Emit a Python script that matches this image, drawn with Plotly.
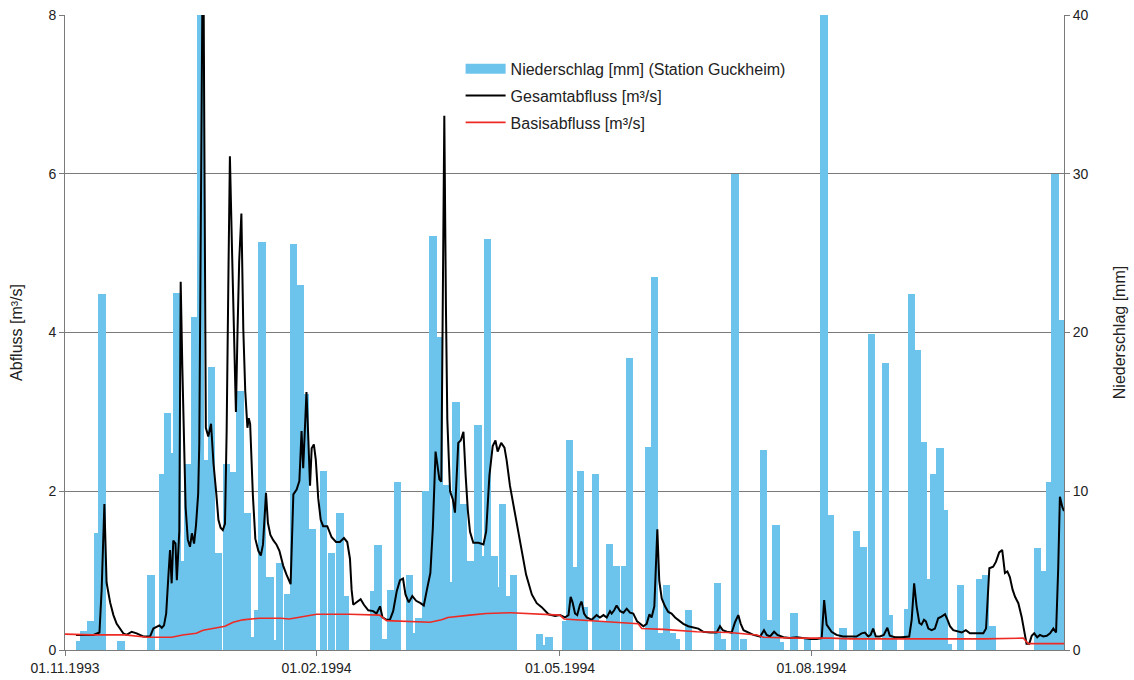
import pandas as pd
import plotly.graph_objects as go

START = pd.Timestamp("1993-11-01")

# Niederschlag (Station Guckheim): days since 01.11.1993, mm
rain_day = [5.5, 7, 9.5, 12, 13.5, 20.5, 31.5, 35.8, 37.5, 39, 41, 43, 45, 47.6, 49.5, 51.5, 53.5, 56, 59,
            61.5, 64, 66.5, 68.5, 70.5, 72, 75, 77, 78.5, 81.5, 83.5, 86, 88, 90.5, 94.5, 97.5, 100.5, 102.5,
            113, 114.5, 117, 119, 121.5, 126, 128, 129.5, 132, 134.5, 137, 139.5, 141, 143, 145.5, 148.5,
            151, 152.5, 154.5, 157, 158, 160, 162, 164, 173.5, 175, 177, 183, 184.5, 186, 188.5, 190, 194,
            196.5, 199, 201.5, 204.5, 206.5, 213.5, 215.5, 217.5, 220, 222, 223.5, 228, 238.5, 240.5, 245,
            248, 255.5, 257.5, 260, 261.5, 266.5, 271.5, 277.5, 280, 284.5, 289.5, 292, 295, 300, 301.5,
            303, 308, 309.5, 311.5, 314, 316, 317.5, 320, 321.5, 323, 327.5, 334.5, 336.5, 339, 355.5, 358,
            360, 362, 364]
rain_mm = [0.55, 1.2, 1.85, 7.4, 22.4, 0.55, 4.7, 11.1, 14.9, 12.4, 22.5, 5.6, 11.7, 21, 42, 12, 17.8, 6.1, 11.7,
           11.2, 16.3, 8.6, 0.8, 2.5, 25.7, 4.6, 0.6, 5.5, 3.5, 25.6, 23.0, 16.1, 7.6, 11.3, 6.1, 8.6, 3.4,
           3.7, 6.6, 0.7, 3.8, 10.6, 4.7, 1.1, 2.0, 10, 26.1, 19.7, 10.4, 4.3, 15.6, 9.2, 5.6,
           14.2, 5.9, 25.9, 5.9, 4.0, 9.2, 3.4, 4.7, 1.0, 0.3, 0.8, 1.8, 13.2, 5.2, 11.3, 2.7, 11.1,
           1.8, 6.7, 5.3, 5.3, 18.4, 12.8, 23.5, 1.1, 4.1, 1.1, 0.7, 2.5, 4.2, 0.7, 30,
           0.7, 12.6, 1.9, 7.9, 0.5, 2.3, 0.7, 42, 8.5, 1.4, 7.5, 6.5, 19.9, 18.1, 2.2,
           0.8, 2.6, 22.4, 18.9, 13.1, 4.5, 11.1, 12.7, 8.8, 0.4, 4.1, 4.5, 4.7, 1.5, 6.4, 5.0,
           10.6, 30, 20.8]

# Gesamtabfluss: days since 01.11.1993, m³/s
q_day = [4, 10.4, 12.6, 13.4, 14.4, 15.2, 16.5, 17.7, 18.9, 20.1, 21.3, 22.5, 24.4, 26.2, 28.6, 31.1, 32.3,
         34.5, 35.4, 36.2, 37.0, 37.8, 38.4, 39.0, 39.6, 40.4, 40.9, 41.8, 42.3, 42.9, 43.5, 44.1, 44.9,
         45.7, 46.4, 47.2, 47.9, 48.7, 49.1, 49.8, 50.5, 51.5, 52.4, 53.4, 54.3, 55.3, 56.1, 56.9, 57.7,
         58.5, 59.1, 59.8, 60.3, 61.1, 61.8, 62.5, 63.1, 63.7, 64.5, 65.2, 65.9, 66.7, 67.2, 67.7, 68.7,
         69.6, 70.7, 71.6, 72.4, 73.5, 74.2, 75.1, 76.2, 77.3, 78.4, 79.8, 81, 82.5, 83.5, 84.7, 85.7,
         86.5, 87.1, 88.3, 88.9, 89.6, 90.2, 91.0, 91.7, 92.6, 93.5, 94.4, 95.9, 97.5, 99.1, 100.5, 102,
         103.2, 104.2, 104.8, 105.4, 106.6, 108.1, 109.3, 110.9, 112.7, 113.9, 115.2, 116.1, 117.6, 118.8,
         120, 121.3, 122.5, 123.6, 124.5, 125.7, 127, 128.4, 130, 131.2, 132.4, 133.6, 134.5, 135.5, 136.1,
         136.9, 137.6, 138.2, 138.7, 139.3, 139.8, 140.8, 141.8, 142.6, 143.8, 144.7, 145.7, 146.5, 147.3,
         148.1, 149.3, 151.2, 153.0, 154.0, 155.2, 156.4, 157.4, 158.2, 159.5, 160.7, 161.5, 162.7, 164.6,
         166.6, 168.6, 170.7, 172.5, 174.3, 176.8, 179.2, 181, 182.8, 184.1, 184.9, 185.6, 186.5, 187.3,
         188.3, 188.9, 189.8, 190.8, 192.6, 194.4, 195.6, 196.9, 198.1, 199.3, 199.9, 200.8, 201.7, 203,
         204.2, 205.4, 206.6, 207.8, 209.2, 210.5, 211.5, 212.7, 213.7, 214.5, 215.5, 216.6, 217.3, 218.2,
         219.4, 220.6, 221.8, 223.1, 224.3, 226.1, 227.9, 229.8, 231.6, 233.4, 235.9, 238.3, 239.5, 240.5,
         242, 243.8, 245, 246.2, 247.1, 248.1, 249.9, 251.7, 254.2, 255.6, 256.6, 257.8, 259.3, 260.5,
         262.7, 265.1, 267.6, 270, 272.5, 274.9, 276.7, 277.6, 278.5, 280.3, 282.1, 284.5, 287, 289.4,
         291.3, 292.5, 293.7, 294.6, 295.5, 296.5, 298, 299.4, 300.7, 301.6, 303.5, 305.9, 308.7, 309.6,
         310.5, 311.4, 312.4, 313.2, 314.1, 314.8, 315.7, 316.9, 318.1, 319.3, 320.5, 321.8, 322.6, 323.6,
         324.8, 326, 327.9, 329.4, 330.9, 332.7, 335.8, 336.8, 337.4, 338, 339.4, 340.4, 341.6, 342.7,
         343.7, 344.6, 345.5, 346.5, 347.4, 348.6, 349.8, 350.7, 351.6, 352.6, 353.5, 354.4, 355.5, 356.5,
         357.7, 359, 360.2, 361.4, 362.4, 363.2, 363.8, 364.7, 365.3]
q_total = [0.19, 0.19, 0.22, 0.76, 1.84, 0.85, 0.6, 0.44, 0.33, 0.27, 0.21, 0.19, 0.23, 0.21, 0.17, 0.17, 0.27,
           0.31, 0.28, 0.31, 0.46, 0.93, 1.26, 0.84, 1.38, 1.34, 0.88, 1.5, 4.64, 3.57, 2.48, 1.8, 1.39,
           1.3, 1.47, 1.34, 1.57, 1.97, 2.6, 5.5, 9.5, 2.8, 2.69, 2.85, 2.35, 1.98, 1.64, 1.54, 1.51,
           1.59, 2.74, 4.85, 6.22, 5.0, 3.8, 3.0, 4.04, 4.9, 5.5, 4.04, 3.27, 2.8, 2.92, 2.85, 1.95,
           1.4, 1.25, 1.19, 1.33, 1.98, 1.6, 1.45, 1.38, 1.33, 1.25, 1.06, 0.95, 0.83, 1.96, 2.02, 2.13,
           2.76, 2.29, 3.25, 2.73, 2.07, 2.54, 2.59, 2.4, 1.91, 1.64, 1.56, 1.56, 1.42, 1.36, 1.36, 1.41,
           1.36, 1.15, 0.76, 0.57, 0.6, 0.64, 0.57, 0.5, 0.49, 0.46, 0.55, 0.41, 0.38, 0.38,
           0.49, 0.74, 0.88, 0.9, 0.7, 0.6, 0.68, 0.62, 0.59, 0.56, 0.77, 0.97, 1.53, 2.5, 2.35,
           2.15, 2.12, 4.4, 6.73, 4.3, 2.9, 2.0, 1.9, 1.73, 2.61, 2.64, 2.75, 2.2, 1.76,
           1.49, 1.35, 1.35, 1.33, 1.49, 2.2, 2.57, 2.64, 2.5, 2.61, 2.55, 2.39, 2.07, 1.71,
           1.35, 0.95, 0.7, 0.59, 0.54, 0.45, 0.43, 0.44, 0.41, 0.44, 0.67, 0.6, 0.46, 0.44,
           0.57, 0.61, 0.46, 0.41, 0.38, 0.44, 0.41, 0.44, 0.41, 0.49, 0.46, 0.5, 0.56, 0.49,
           0.47, 0.52, 0.47, 0.46, 0.36, 0.32, 0.3, 0.33, 0.45, 0.41, 0.55, 1.52, 0.87, 0.65,
           0.55, 0.48, 0.46, 0.41, 0.38, 0.33, 0.3, 0.28, 0.27, 0.23, 0.22, 0.22, 0.3, 0.25,
           0.23, 0.22, 0.35, 0.44, 0.33, 0.25, 0.22, 0.19, 0.17, 0.25, 0.19, 0.17, 0.23, 0.19,
           0.16, 0.15, 0.16, 0.15, 0.14, 0.14, 0.15, 0.63, 0.32, 0.23, 0.19, 0.17, 0.17, 0.17,
           0.21, 0.22, 0.17, 0.19, 0.27, 0.17, 0.17, 0.19, 0.28, 0.18, 0.16, 0.16, 0.17, 0.38,
           0.84, 0.55, 0.34, 0.32, 0.38, 0.36, 0.27, 0.25, 0.27, 0.4, 0.42, 0.45, 0.39, 0.3,
           0.25, 0.24, 0.22, 0.25, 0.21, 0.21, 0.21, 0.27, 0.67, 1.03, 1.05, 1.11, 1.23, 1.26,
           0.97, 0.99, 0.92, 0.76, 0.67, 0.59, 0.42, 0.25, 0.08, 0.08, 0.18, 0.21, 0.16, 0.19,
           0.17, 0.18, 0.21, 0.27, 0.22, 1.05, 1.93, 1.8, 1.75]

# Basisabfluss: days since 01.11.1993, m³/s
b_day = [0, 10, 22, 30, 39, 43, 48, 50.5, 55.5, 58.5, 61.5, 65, 71, 79, 82, 92, 104, 115, 117.6, 133.5,
         137.7, 140, 148, 154, 163, 171, 181, 182.5, 192, 200.5, 209.6, 210.9, 218.8, 231, 243, 253,
         255.4, 268, 280, 287, 336, 350.4, 352.2, 365.5]
q_base = [0.2, 0.19, 0.19, 0.16, 0.16, 0.19, 0.21, 0.25, 0.28, 0.3, 0.35, 0.38, 0.4, 0.4, 0.39, 0.45, 0.45,
          0.44, 0.37, 0.35, 0.38, 0.41, 0.44, 0.46, 0.47, 0.46, 0.44, 0.39, 0.37, 0.35, 0.33, 0.27, 0.26,
          0.23, 0.22, 0.19, 0.16, 0.15, 0.15, 0.14, 0.14, 0.15, 0.08, 0.08]

tick_dates = ["1993-11-01", "1994-02-01", "1994-05-01", "1994-08-01"]
tick_text = ["01.11.1993", "01.02.1994", "01.05.1994", "01.08.1994"]

rain_name = "Niederschlag [mm] (Station Guckheim)"
total_name = "Gesamtabfluss [m³/s]"
base_name = "Basisabfluss [m³/s]"


def to_dates(days):
    return [START + pd.Timedelta(days=d) for d in days]


FONT = "Liberation Sans, Arial, sans-serif"
GRID = "#7a7a7a"
BLUE = "#6cc4ec"

fig = go.Figure()
fig.add_trace(go.Bar(
    x=to_dates(rain_day), y=rain_mm, name=rain_name,
    marker=dict(color=BLUE, line=dict(width=0)),
    width=2.7 * 86400000, yaxis="y", showlegend=False,
))
# legend entry for the precipitation bars (wide rectangle swatch)
fig.add_trace(go.Scatter(
    x=[None], y=[None], name=rain_name, mode="lines",
    line=dict(color=BLUE, width=14), yaxis="y", legendgroup="a",
))
fig.add_trace(go.Scatter(
    x=to_dates(q_day), y=q_total, name=total_name, mode="lines",
    line=dict(color="black", width=2), yaxis="y2", legendgroup="b",
))
fig.add_trace(go.Scatter(
    x=to_dates(b_day), y=q_base, name=base_name, mode="lines",
    line=dict(color="#ee2a24", width=1.6), yaxis="y2", legendgroup="c",
))

fig.update_layout(
    width=1134, height=680,
    margin=dict(l=65, r=70, t=15, b=30),
    paper_bgcolor="white", plot_bgcolor="white",
    font=dict(family=FONT, size=14, color="#222"),
    barmode="overlay", bargap=0,
    showlegend=True,
    legend=dict(x=0.396, y=0.942, xanchor="left", yanchor="top",
                font=dict(size=16, family=FONT, color="#222"),
                bgcolor="rgba(0,0,0,0)", tracegroupgap=3, itemwidth=40),
    xaxis=dict(
        type="date", automargin=False,
        range=[START, START + pd.Timedelta(days=365.3)],
        tickvals=tick_dates, ticktext=tick_text,
        ticks="outside", ticklen=5, tickcolor=GRID,
        showline=True, linecolor=GRID, linewidth=1,
        showgrid=False, zeroline=False,
        tickfont=dict(size=14, family=FONT),
    ),
    yaxis=dict(
        side="right", range=[0, 40], tickvals=[0, 10, 20, 30, 40], automargin=False,
        ticks="outside", ticklen=5, tickcolor=GRID,
        showline=True, linecolor=GRID, linewidth=1,
        showgrid=False, zeroline=False,
        title=dict(text="Niederschlag [mm]", font=dict(size=16, family=FONT), standoff=26),
        tickfont=dict(size=14, family=FONT),
    ),
    yaxis2=dict(
        overlaying="y", side="left", range=[0, 8], tickvals=[0, 2, 4, 6, 8], automargin=False,
        ticks="outside", ticklen=5, tickcolor=GRID,
        showline=True, linecolor=GRID, linewidth=1,
        showgrid=True, gridcolor=GRID, gridwidth=1, zeroline=False,
        title=dict(text="Abfluss [m³/s]", font=dict(size=16, family=FONT), standoff=21),
        tickfont=dict(size=14, family=FONT),
    ),
)

fig.write_html("out.html")
